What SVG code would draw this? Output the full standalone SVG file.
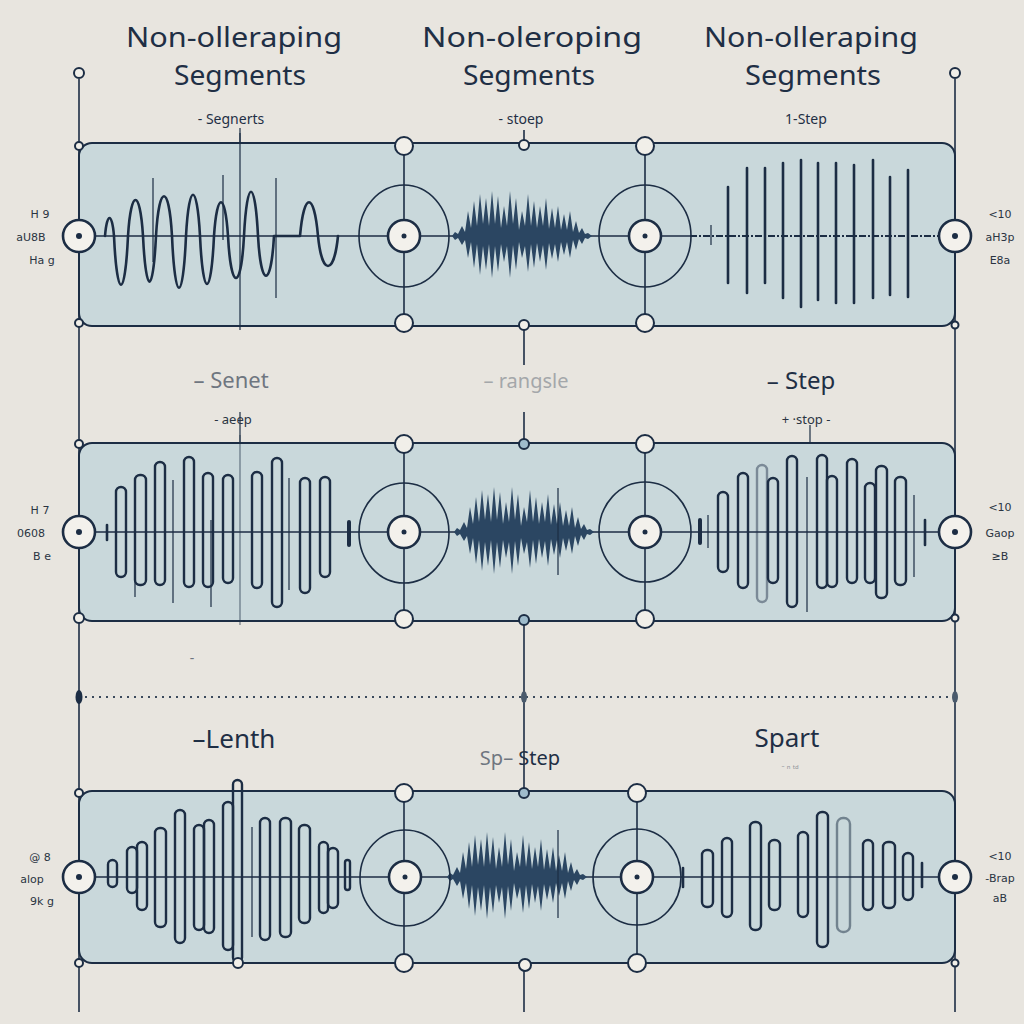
<svg xmlns="http://www.w3.org/2000/svg" xmlns:xlink="http://www.w3.org/1999/xlink" width="1024" height="1024" viewBox="0 0 1024 1024">
<style>
.bg{fill:#e8e5df}
.panel{fill:#c9d8db;stroke:#1c2d44;stroke-width:2}
.ln{stroke:#1c2d44;stroke-width:1.6;fill:none}
.thin{stroke:#1c2d44;stroke-width:1.2;fill:none}
.wave{stroke:#1c2d44;stroke-width:2.6;fill:none;stroke-linejoin:round;stroke-linecap:round}
.bar{stroke:#1c2d44;stroke-width:2.6;stroke-linecap:round}
.pill{fill:none;stroke:#1c2d44;stroke-width:2.4}
.wc{fill:#f1efe9;stroke:#1c2d44;stroke-width:2}
.node{fill:#f3f1ec;stroke:#1c2d44;stroke-width:2.6}
.dot{fill:#1c2d44}
.burst{fill:#2b4662}
.h{font-family:"Noto Sans","DejaVu Sans",sans-serif;font-size:27px;fill:#1f2f45;text-anchor:middle}
.s{font-family:"Noto Sans","DejaVu Sans",sans-serif;font-size:14px;fill:#1f2f45;text-anchor:middle}
.m{font-family:"Noto Sans","DejaVu Sans",sans-serif;text-anchor:middle}
.side{font-family:"DejaVu Sans",sans-serif;font-size:11px;fill:#2a3442;text-anchor:middle}
</style>
<defs>
<path id="burst" class="burst" d="M452,236 L455,232 L458,234 L462,226 L465,232 L468,211 L471,228 L474,201 L477,226 L480,194 L483,224 L486,198 L489,226 L492,191 L495,224 L498,196 L501,228 L504,206 L507,226 L510,191 L513,224 L516,198 L519,230 L522,211 L525,226 L528,194 L531,226 L534,201 L537,228 L540,206 L543,226 L546,198 L549,229 L552,208 L555,228 L558,206 L561,230 L564,214 L567,230 L570,211 L573,232 L576,221 L579,233 L582,228 L585,234 L588,233 L592,236 L588,239 L585,238 L582,244 L579,239 L576,250 L573,240 L570,258 L567,242 L564,255 L561,242 L558,262 L555,244 L552,259 L549,243 L546,270 L543,245 L540,262 L537,243 L534,268 L531,244 L528,272 L525,246 L522,258 L519,242 L516,270 L513,245 L510,278 L507,246 L504,262 L501,244 L498,272 L495,246 L492,278 L489,244 L486,270 L483,246 L480,275 L477,244 L474,268 L471,242 L468,258 L465,240 L462,245 L458,238 L455,240 Z"/>
</defs>
<rect class="bg" x="0" y="0" width="1024" height="1024"/>

<!-- headings -->
<g id="headings">
<text class="h" x="234" y="47" textLength="216" lengthAdjust="spacingAndGlyphs">Non-olleraping</text>
<text class="h" x="240" y="85" textLength="132" lengthAdjust="spacingAndGlyphs">Segments</text>
<text class="h" x="532" y="47" textLength="220" lengthAdjust="spacingAndGlyphs">Non-oleroping</text>
<text class="h" x="529" y="85" textLength="132" lengthAdjust="spacingAndGlyphs">Segments</text>
<text class="h" x="811" y="47" textLength="214" lengthAdjust="spacingAndGlyphs">Non-olleraping</text>
<text class="h" x="813" y="85" textLength="136" lengthAdjust="spacingAndGlyphs">Segments</text>
<text class="s" x="231" y="124">- Segnerts</text>
<text class="s" x="521" y="124">- stoep</text>
<text class="s" x="806" y="124">1-Step</text>
</g>

<!-- connectors / guide lines -->
<g id="connectors">
<line class="ln" x1="79" y1="79" x2="79" y2="1012"/>
<line class="ln" x1="955" y1="79" x2="955" y2="1012"/>
<line class="ln" x1="524" y1="130" x2="524" y2="365"/>
<line class="ln" x1="524" y1="412" x2="524" y2="1012"/>
<line class="thin" x1="240" y1="412" x2="240" y2="445"/>
<line class="thin" x1="810" y1="425" x2="810" y2="445"/>
<line class="thin" x1="240" y1="128" x2="240" y2="145"/>
<line x1="85" y1="697" x2="950" y2="697" stroke="#3b4a5c" stroke-width="1.8" stroke-dasharray="2 5"/>
<ellipse class="dot" cx="79" cy="697" rx="3.5" ry="7"/>
<ellipse cx="524" cy="697" rx="3" ry="6" fill="#4a5a6c"/>
<ellipse cx="955" cy="697" rx="3" ry="6" fill="#4a5a6c"/>
<circle class="wc" cx="79" cy="73" r="5"/>
<circle class="wc" cx="955" cy="73" r="5"/>
</g>

<!-- Panel 1 -->
<g id="panel1">
<rect class="panel" x="79" y="143" width="876" height="183" rx="13"/>
<line class="thin" x1="240" y1="133" x2="240" y2="330"/>
<line class="ln" x1="95" y1="236" x2="455" y2="236"/>
<line class="ln" x1="590" y1="236" x2="690" y2="236"/>
<line x1="690" y1="236" x2="940" y2="236" stroke="#1c2d44" stroke-width="1.8" stroke-dasharray="7 2 2 2"/>
<line class="ln" x1="404" y1="146" x2="404" y2="323"/>
<line class="ln" x1="645" y1="146" x2="645" y2="323"/>
<path class="wave" d="M105,236 C107,212 112,212 114,236 C117,301 125,301 128,236 C131,188 140,188 143,236 C146,297 153,297 156,236 C159,183 169,183 172,236 C175,305 183,305 186,236 C189,181 197,181 200,236 C203,300 211,300 214,236 C217,191 225,191 228,236 C231,292 241,292 244,236 C247,177 255,177 258,236 C261,289 271,289 274,236 L300,236 C304,191 314,191 318,236 C322,276 334,276 338,236"/>
<line class="thin" x1="153" y1="178" x2="153" y2="262"/>
<line class="thin" x1="223" y1="175" x2="223" y2="240"/>
<line class="thin" x1="276" y1="178" x2="276" y2="298"/>
<use xlink:href="#burst"/>
<line class="thin" x1="711" y1="225" x2="711" y2="245"/>
<line class="bar" x1="728" y1="187" x2="728" y2="283"/>
<line class="bar" x1="747" y1="168" x2="747" y2="293"/>
<line class="bar" x1="765" y1="168" x2="765" y2="283"/>
<line class="bar" x1="783" y1="163" x2="783" y2="298"/>
<line class="bar" x1="801" y1="160" x2="801" y2="307"/>
<line class="bar" x1="818" y1="163" x2="818" y2="300"/>
<line class="bar" x1="836" y1="163" x2="836" y2="303"/>
<line class="bar" x1="854" y1="165" x2="854" y2="303"/>
<line class="bar" x1="873" y1="160" x2="873" y2="298"/>
<line class="bar" x1="890" y1="177" x2="890" y2="295"/>
<line class="bar" x1="908" y1="170" x2="908" y2="297"/>
<ellipse class="ln" cx="404" cy="236" rx="45" ry="51"/>
<ellipse class="ln" cx="645" cy="236" rx="46" ry="51"/>
<circle class="node" cx="404" cy="236" r="16"/><circle class="dot" cx="404" cy="236" r="2.5"/>
<circle class="node" cx="645" cy="236" r="16"/><circle class="dot" cx="645" cy="236" r="2.5"/>
<circle class="wc" cx="404" cy="146" r="9"/>
<circle class="wc" cx="404" cy="323" r="9"/>
<circle class="wc" cx="645" cy="146" r="9"/>
<circle class="wc" cx="645" cy="323" r="9"/>
<circle class="wc" cx="524" cy="145" r="5"/>
<circle class="wc" cx="524" cy="325" r="5"/>
<circle class="wc" cx="79" cy="146" r="4"/>
<circle class="wc" cx="79" cy="323" r="4"/>
<circle class="wc" cx="955" cy="325" r="3.5"/>
<circle class="node" cx="79" cy="236" r="16"/><circle class="dot" cx="79" cy="236" r="3"/>
<circle class="node" cx="955" cy="236" r="16"/><circle class="dot" cx="955" cy="236" r="3"/>
<text class="side" x="40" y="218">H  9</text>
<text class="side" x="31" y="241">aU8B</text>
<text class="side" x="42" y="264">Ha  g</text>
<text class="side" x="1000" y="218">&lt;10</text>
<text class="side" x="1000" y="241">aH3p</text>
<text class="side" x="1000" y="264">E8a</text>
</g>

<!-- Row 2 labels -->
<g id="labels2">
<text class="m" x="231" y="388" font-size="22" fill="#6f7680">– Senet</text>
<text class="m" x="526" y="388" font-size="20" fill="#a4a7aa">– rangsle</text>
<text class="m" x="801" y="389" font-size="24" fill="#1f2f45">– Step</text>
<text class="m" x="233" y="424" font-size="13" fill="#2a3442">- aeep</text>
<text class="m" x="806" y="424" font-size="13" fill="#2a3442">+ ·stop -</text>
</g>

<!-- Panel 2 -->
<g id="panel2">
<rect class="panel" x="79" y="443" width="876" height="178" rx="13"/>
<line class="thin" x1="240" y1="435" x2="240" y2="625" stroke-opacity="0.6"/>
<line class="ln" x1="95" y1="532" x2="940" y2="532"/>
<line class="ln" x1="404" y1="444" x2="404" y2="619"/>
<line class="ln" x1="645" y1="444" x2="645" y2="619"/>
<line class="bar" x1="107" y1="525" x2="107" y2="540"/>
<line x1="349" y1="522" x2="349" y2="545" stroke="#1c2d44" stroke-width="4" stroke-linecap="round"/>
<rect class="pill" x="116" y="487" width="10" height="90" rx="5"/>
<rect class="pill" x="135" y="475" width="11" height="110" rx="5"/>
<line class="thin" x1="135" y1="500" x2="135" y2="597"/>
<rect class="pill" x="155" y="462" width="10" height="123" rx="5"/>
<line class="thin" x1="173" y1="480" x2="173" y2="603"/>
<rect class="pill" x="184" y="457" width="10" height="130" rx="5"/>
<rect class="pill" x="203" y="473" width="10" height="114" rx="5"/>
<line class="thin" x1="211" y1="520" x2="211" y2="607"/>
<rect class="pill" x="223" y="475" width="10" height="108" rx="5"/>
<rect class="pill" x="252" y="472" width="10" height="116" rx="5"/>
<rect class="pill" x="272" y="458" width="10" height="149" rx="5"/>
<line class="thin" x1="289" y1="478" x2="289" y2="590"/>
<rect class="pill" x="300" y="478" width="10" height="115" rx="5"/>
<rect class="pill" x="320" y="477" width="10" height="100" rx="5"/>
<use xlink:href="#burst" transform="translate(2,296)"/>
<line class="thin" x1="558" y1="488" x2="558" y2="575"/>
<line x1="700" y1="520" x2="700" y2="543" stroke="#1c2d44" stroke-width="4" stroke-linecap="round"/>
<line class="thin" x1="708" y1="515" x2="708" y2="548"/>
<rect class="pill" x="718" y="492" width="10" height="80" rx="5"/>
<rect class="pill" x="738" y="473" width="10" height="115" rx="5"/>
<rect class="pill" x="757" y="465" width="10" height="137" rx="5" stroke-opacity="0.45"/>
<rect class="pill" x="768" y="478" width="10" height="105" rx="5"/>
<rect class="pill" x="787" y="456" width="10" height="151" rx="5"/>
<line class="thin" x1="807" y1="477" x2="807" y2="612"/>
<rect class="pill" x="817" y="455" width="10" height="133" rx="5"/>
<rect class="pill" x="827" y="476" width="10" height="111" rx="5"/>
<rect class="pill" x="847" y="459" width="10" height="124" rx="5"/>
<rect class="pill" x="865" y="483" width="10" height="100" rx="5"/>
<rect class="pill" x="876" y="466" width="11" height="132" rx="5"/>
<rect class="pill" x="895" y="477" width="11" height="108" rx="5"/>
<line class="thin" x1="914" y1="495" x2="914" y2="577"/>
<line class="bar" x1="925" y1="520" x2="925" y2="545"/>
<ellipse class="ln" cx="404" cy="533" rx="45" ry="50"/>
<ellipse class="ln" cx="645" cy="532" rx="46" ry="50"/>
<circle class="node" cx="404" cy="532" r="16"/><circle class="dot" cx="404" cy="532" r="2.5"/>
<circle class="node" cx="645" cy="532" r="16"/><circle class="dot" cx="645" cy="532" r="2.5"/>
<circle class="wc" cx="404" cy="444" r="9"/>
<circle class="wc" cx="404" cy="619" r="9"/>
<circle class="wc" cx="645" cy="444" r="9"/>
<circle class="wc" cx="645" cy="619" r="9"/>
<circle cx="524" cy="444" r="5" fill="#9fbccc" stroke="#1c2d44" stroke-width="2"/>
<circle cx="524" cy="620" r="5" fill="#9fbccc" stroke="#1c2d44" stroke-width="2"/>
<circle class="wc" cx="79" cy="444" r="4"/>
<circle class="wc" cx="79" cy="618" r="5"/>
<circle class="wc" cx="955" cy="618" r="3.5"/>
<circle class="node" cx="79" cy="532" r="16"/><circle class="dot" cx="79" cy="532" r="3"/>
<circle class="node" cx="955" cy="532" r="16"/><circle class="dot" cx="955" cy="532" r="3"/>
<text class="side" x="40" y="514">H  7</text>
<text class="side" x="31" y="537">0608</text>
<text class="side" x="42" y="560">B  e</text>
<text class="side" x="1000" y="511">&lt;10</text>
<text class="side" x="1000" y="537">Gaop</text>
<text class="side" x="1000" y="560">≥B</text>
</g>

<!-- Row 3 labels -->
<g id="labels3">
<text class="m" x="192" y="663" font-size="14" fill="#6f7680">-</text>
<text class="m" x="234" y="748" font-size="26" fill="#1f2f45">–Lenth</text>
<text class="m" x="520" y="765" font-size="20" fill="#1f2f45"><tspan fill="#6f7680">Sp–</tspan> Step</text>
<text class="m" x="787" y="747" font-size="26" fill="#1f2f45">Spart</text>
<text class="m" x="790" y="772" font-size="9" fill="#8a8f96">⁻ ⁿ ᵗᵈ</text>
</g>

<!-- Panel 3 -->
<g id="panel3">
<rect class="panel" x="79" y="791" width="876" height="172" rx="13"/>
<line class="ln" x1="95" y1="877" x2="940" y2="877"/>
<line class="ln" x1="404" y1="793" x2="404" y2="963"/>
<line class="ln" x1="637" y1="793" x2="637" y2="963"/>
<rect class="pill" x="108" y="860" width="9" height="27" rx="4.5"/>
<rect class="pill" x="127" y="847" width="10" height="46" rx="5"/>
<rect class="pill" x="137" y="842" width="10" height="68" rx="5"/>
<rect class="pill" x="155" y="828" width="11" height="99" rx="5"/>
<rect class="pill" x="175" y="810" width="10" height="133" rx="5"/>
<rect class="pill" x="194" y="825" width="10" height="105" rx="5"/>
<rect class="pill" x="204" y="820" width="10" height="113" rx="5"/>
<rect class="pill" x="223" y="802" width="10" height="148" rx="5"/>
<rect class="pill" x="233" y="780" width="9" height="182" rx="4.5"/>
<line class="thin" x1="252" y1="827" x2="252" y2="937"/>
<rect class="pill" x="260" y="818" width="10" height="122" rx="5"/>
<rect class="pill" x="280" y="818" width="11" height="119" rx="5"/>
<rect class="pill" x="299" y="825" width="11" height="98" rx="5"/>
<rect class="pill" x="319" y="842" width="9" height="71" rx="4.5"/>
<rect class="pill" x="328" y="848" width="10" height="60" rx="5"/>
<rect class="pill" x="345" y="860" width="5" height="30" rx="2.5"/>
<use xlink:href="#burst" transform="translate(-5,641)"/>
<line class="thin" x1="558" y1="830" x2="558" y2="918"/>
<line class="bar" x1="683" y1="868" x2="683" y2="887"/>
<rect class="pill" x="702" y="850" width="11" height="57" rx="5"/>
<rect class="pill" x="722" y="838" width="10" height="79" rx="5"/>
<rect class="pill" x="750" y="822" width="11" height="108" rx="5"/>
<rect class="pill" x="769" y="840" width="11" height="70" rx="5"/>
<rect class="pill" x="798" y="832" width="10" height="85" rx="5"/>
<rect class="pill" x="817" y="812" width="11" height="135" rx="5"/>
<rect class="pill" x="837" y="818" width="13" height="114" rx="6" stroke-opacity="0.5"/>
<rect class="pill" x="863" y="840" width="10" height="70" rx="5"/>
<rect class="pill" x="883" y="842" width="12" height="66" rx="5"/>
<rect class="pill" x="903" y="853" width="10" height="47" rx="5"/>
<line class="bar" x1="922" y1="863" x2="922" y2="887"/>
<ellipse class="ln" cx="405" cy="878" rx="45" ry="48"/>
<ellipse class="ln" cx="637" cy="877" rx="44" ry="48"/>
<circle class="node" cx="405" cy="877" r="16"/><circle class="dot" cx="405" cy="877" r="2.5"/>
<circle class="node" cx="637" cy="877" r="16"/><circle class="dot" cx="637" cy="877" r="2.5"/>
<circle class="wc" cx="404" cy="793" r="9"/>
<circle class="wc" cx="404" cy="963" r="9"/>
<circle class="wc" cx="637" cy="793" r="9"/>
<circle class="wc" cx="637" cy="963" r="9"/>
<circle cx="524" cy="793" r="5" fill="#9fbccc" stroke="#1c2d44" stroke-width="2"/>
<circle class="wc" cx="525" cy="965" r="6"/>
<circle class="wc" cx="238" cy="963" r="5"/>
<circle class="wc" cx="79" cy="793" r="4"/>
<circle class="wc" cx="79" cy="963" r="4"/>
<circle class="wc" cx="955" cy="963" r="3.5"/>
<circle class="node" cx="79" cy="877" r="16"/><circle class="dot" cx="79" cy="877" r="3"/>
<circle class="node" cx="955" cy="877" r="16"/><circle class="dot" cx="955" cy="877" r="3"/>
<text class="side" x="40" y="861">@  8</text>
<text class="side" x="32" y="883" font-size="13">alop</text>
<text class="side" x="42" y="905">9k  g</text>
<text class="side" x="1000" y="860">&lt;10</text>
<text class="side" x="1000" y="882">-Brap</text>
<text class="side" x="1000" y="902" fill="#8a8f96">aB</text>
</g>
</svg>
